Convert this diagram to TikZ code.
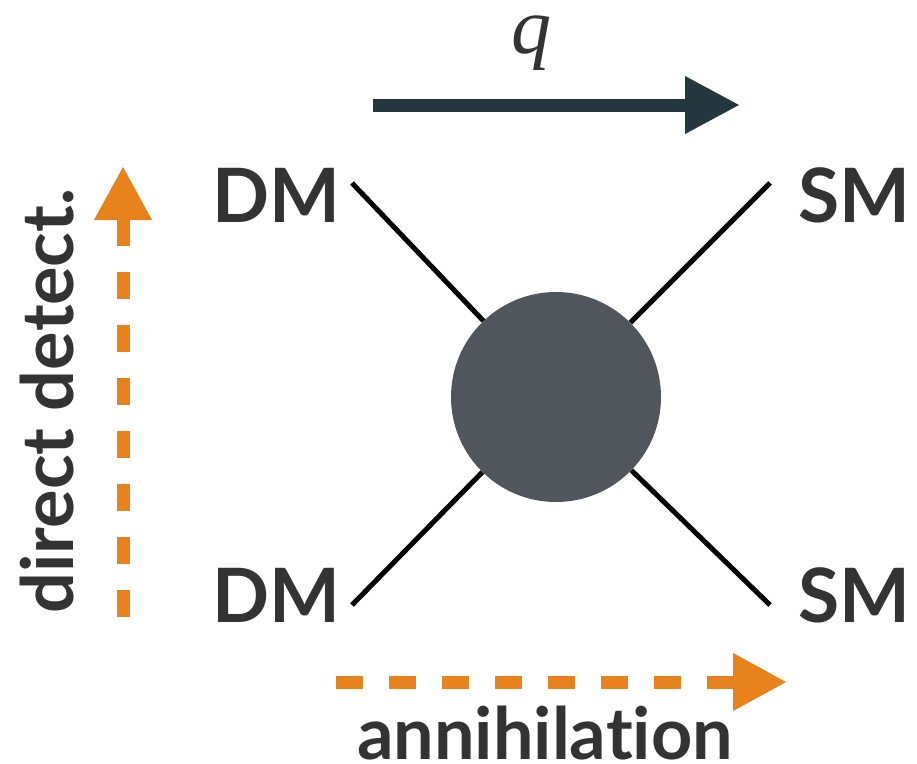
\documentclass[tikz,border=0pt]{standalone}
\usepackage{fontspec}
\setmainfont{Lato}[Ligatures={NoCommon}]
\newfontfamily\qfont{Liberation Serif}
\usetikzlibrary{arrows.meta}
\definecolor{inkgrey}{HTML}{333333}
\definecolor{blobgrey}{HTML}{51565D}
\definecolor{slate}{HTML}{24363E}
\definecolor{tangerine}{HTML}{E8821C}
\tikzset{
  particle/.style={inner sep=0pt, anchor=base, text=inkgrey,
    font=\fontsize{75}{75}\selectfont\bfseries},
  caption/.style={inner sep=0pt, anchor=base, text=inkgrey,
    font=\fontsize{72}{72}\selectfont\bfseries},
  leg/.style={line width=5pt, black},
  blob/.style={circle, fill=blobgrey, minimum size=210pt, inner sep=0pt},
  process/.style={line width=13pt, tangerine, dash pattern=on 27pt off 26pt,
    -{Triangle[length=54pt,width=54pt]}},
  momentum/.style={line width=13pt, slate, -{Triangle[length=55pt,width=54pt]}}
}
\begin{document}
\begin{tikzpicture}[x=1pt,y=-1pt]
\useasboundingbox (0,0) rectangle (917,763);

% vertex
\node[blob] (vertex) at (556,397) {};

% external legs
\coordinate (dmin)  at (352,183);
\coordinate (dmout) at (352,605);
\coordinate (smin)  at (770,183);
\coordinate (smout) at (770,605);
\draw[leg] (dmin) -- (vertex);
\draw[leg] (dmout) -- (vertex);
\draw[leg] (smin) -- (vertex);
\draw[leg] (smout) -- (vertex);

% particle labels
\node[particle] (dmtop) at (276,222) {DM};
\node[particle] (dmbot) at (276,622) {DM};
\node[particle] (smtop) at (854,222) {SM};
\node[particle] (smbot) at (854,622) {SM};

% momentum transfer
\coordinate (qstart) at (373,105);
\coordinate (qend)   at (740,105);
\draw[momentum] (qstart) -- (qend);
\node[inner sep=0pt, anchor=base, text=inkgrey, text height=36pt] (qlabel) at (531,53)
  {\qfont\fontsize{80}{80}\selectfont\itshape q};

% channel arrows
\coordinate (ddstart) at (123,617);
\coordinate (ddend)   at (123,166);
\draw[process] (ddstart) -- (ddend);
\node[caption, rotate=90] (ddlabel) at (73,401) {direct detect.};

\coordinate (anstart) at (336,682);
\coordinate (anend)   at (787,682);
\draw[process] (anstart) -- (anend);
\node[caption, text depth=0pt] (anlabel) at (545,759) {annihilat\kern0pt ion};
\end{tikzpicture}
\end{document}
